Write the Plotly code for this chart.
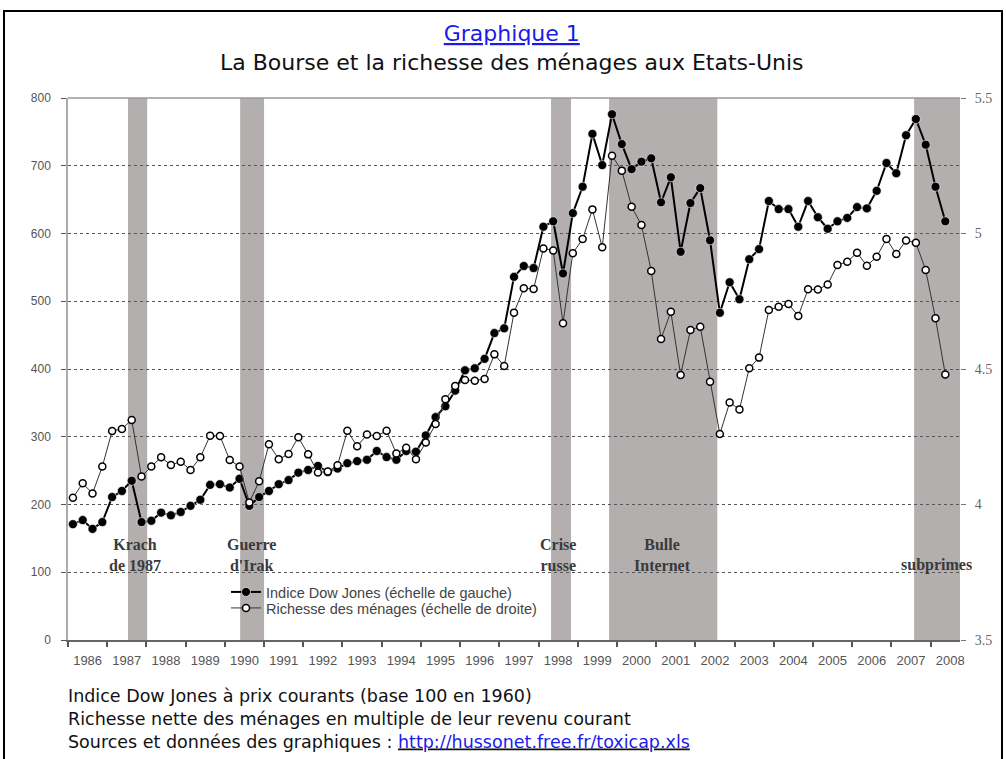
import plotly.graph_objects as go

# ---------------- data ----------------
years = list(range(1986, 2009))
quarters = [(y, q) for y in range(1986, 2009) for q in range(1, 5)][:90]

dow = [171, 177, 164, 174, 211, 220, 235, 174, 176, 188, 184, 189,
       198, 207, 229, 230, 225, 238, 198, 211, 220, 230, 236, 247,
       251, 257, 248, 253, 261, 264, 266, 279, 270, 266, 279, 278,
       302, 329, 345, 368, 398, 401, 415, 453, 460, 536, 552, 549,
       610, 618, 541, 630, 669, 747, 701, 776, 732, 695, 706, 711,
       646, 683, 573, 645, 667, 590, 483, 528, 503, 562, 577, 648,
       636, 636, 610, 648, 624, 607, 618, 623, 639, 637, 663, 704,
       689, 745, 769, 731, 669, 618]

richesse = [4.025, 4.078, 4.041, 4.140, 4.271, 4.279, 4.312, 4.103,
            4.140, 4.174, 4.146, 4.158, 4.127, 4.174, 4.254, 4.253,
            4.164, 4.140, 4.007, 4.086, 4.222, 4.167, 4.186, 4.248,
            4.185, 4.118, 4.122, 4.145, 4.272, 4.215, 4.258, 4.253,
            4.272, 4.188, 4.209, 4.167, 4.229, 4.297, 4.388, 4.437,
            4.459, 4.457, 4.463, 4.554, 4.511, 4.708, 4.798, 4.795,
            4.945, 4.937, 4.669, 4.927, 4.980, 5.089, 4.949, 5.287,
            5.232, 5.099, 5.031, 4.862, 4.611, 4.711, 4.478, 4.644,
            4.656, 4.453, 4.260, 4.376, 4.351, 4.503, 4.542, 4.718,
            4.730, 4.740, 4.696, 4.794, 4.793, 4.812, 4.884, 4.896,
            4.929, 4.881, 4.914, 4.980, 4.924, 4.974, 4.966, 4.865,
            4.687, 4.480]

# shaded crisis periods (fractional years) and their labels
band_start = [1987.53, 1990.39, 1998.32, 1999.80, 2007.58]
band_end = [1988.02, 1991.00, 1998.83, 2002.56, 2008.75]
band_label = ["Krach<br>de 1987", "Guerre<br>d'Irak", "Crise<br>russe",
              "Bulle<br>Internet", "subprimes"]
label_x = [1987.71, 1990.67, 1998.49, 2001.15, 2008.14]
label_y = [125, 125, 125, 125, 111]

title_text = "<span style='color:#1a1aee'><u>Graphique 1</u></span><br>La Bourse et la richesse des ménages aux Etats-Unis"
notes = ["Indice Dow Jones à prix courants (base 100 en 1960)",
         "Richesse nette des ménages en multiple de leur revenu courant",
         "Sources et données des graphiques : <u><span style='color:#1a1aee'>http://hussonet.free.fr/toxicap.xls</span></u>"]

# ---------------- figure ----------------
x = [y + (q - 1) / 4 + 0.125 for (y, q) in quarters]


def px_x(p):
    return (p - 68) / 892


def px_y(p):
    return (640 - p) / 542


fig = go.Figure()
fig.add_trace(go.Scatter(
    x=x, y=dow, mode="lines+markers", name="Indice Dow Jones (échelle de gauche)",
    line=dict(color="#000000", width=2),
    marker=dict(symbol="circle", size=9, color="#000000", line=dict(color="#ffffff", width=0.6)),
    yaxis="y", legend="legend"))
fig.add_trace(go.Scatter(
    x=x, y=richesse, mode="lines+markers", name="Richesse des ménages (échelle de droite)",
    line=dict(color="#333333", width=1),
    marker=dict(symbol="circle", size=7, color="#ffffff", line=dict(color="#000000", width=1.5)),
    yaxis="y2", legend="legend2"))

shapes = []
for s, e in zip(band_start, band_end):
    shapes.append(dict(type="rect", xref="x", yref="paper", x0=s, x1=e, y0=0, y1=1,
                       fillcolor="#b3afaf", line=dict(width=0), layer="below"))
# top border of plot area
shapes.append(dict(type="line", xref="paper", yref="paper", x0=0, x1=1, y0=1, y1=1,
                   line=dict(color="#999999", width=1.5)))
# outer frame
shapes.append(dict(type="rect", xref="paper", yref="paper",
                   x0=px_x(4), x1=px_x(1002), y0=px_y(775), y1=px_y(11),
                   line=dict(color="#000000", width=2), fillcolor="rgba(0,0,0,0)", layer="above"))

annotations = []
for t, lx, ly in zip(band_label, label_x, label_y):
    annotations.append(dict(x=lx, y=ly, xref="x", yref="y", text="<b>" + t + "</b>", showarrow=False,
                            font=dict(family="Liberation Serif", size=16, color="#3a3a3a"),
                            align="center", xanchor="center", yanchor="middle"))

annotations.append(dict(x=px_x(512), y=px_y(48), xref="paper", yref="paper",
                        text=title_text, showarrow=False, align="center",
                        xanchor="center", yanchor="middle",
                        font=dict(family="DejaVu Sans", size=22, color="#111111")))
annotations.append(dict(x=px_x(66), y=px_y(719), xref="paper", yref="paper",
                        text="<br>".join(notes), showarrow=False, align="left",
                        xanchor="left", yanchor="middle",
                        font=dict(family="DejaVu Sans", size=17.5, color="#111111")))

legend_common = dict(xanchor="left", yanchor="top", bgcolor="rgba(0,0,0,0)",
                     borderwidth=0, itemwidth=30,
                     font=dict(family="Liberation Sans", size=14.5, color="#444444"))

fig.update_layout(
    width=1006, height=759, autosize=False,
    margin=dict(l=68, r=46, t=98, b=119, pad=0),
    paper_bgcolor="#ffffff", plot_bgcolor="#ffffff",
    shapes=shapes, annotations=annotations,
    showlegend=True,
    legend=dict(x=px_x(226), y=px_y(576), **legend_common),
    legend2=dict(x=px_x(226), y=px_y(592), **legend_common),
    xaxis=dict(range=[1986, 2008.75], showgrid=False, zeroline=False,
               tickvals=[y + 0.5 for y in years], ticktext=[str(y) for y in years],
               ticks="", showline=True, linecolor="#666666", linewidth=1.5,
               tickfont=dict(family="Liberation Sans", size=13, color="#555555"),
               ticklabelstandoff=8,
               minor=dict(ticks="outside", tickvals=years, ticklen=5, tickcolor="#555555",
                          tickwidth=1.5, showgrid=False)),
    yaxis=dict(range=[0, 800], dtick=100, showgrid=True, gridcolor="#555555",
               griddash="dot", gridwidth=1, zeroline=False, showline=True,
               linecolor="#aaaaaa", linewidth=1.5, ticks="outside", ticklen=5,
               tickcolor="#555555",
               tickfont=dict(family="Liberation Sans", size=12, color="#555555"),
               ticklabelstandoff=8),
    yaxis2=dict(range=[3.5, 5.5], dtick=0.5, overlaying="y", side="right",
                showgrid=False, zeroline=False, showline=False, ticks="outside",
                ticklen=5, tickcolor="#777777",
                tickfont=dict(family="Liberation Serif", size=14, color="#666666"),
                ticklabelstandoff=6),
)

fig.write_html("out.html", config={"displayModeBar": False},
               post_script="document.body.style.margin='0';")
